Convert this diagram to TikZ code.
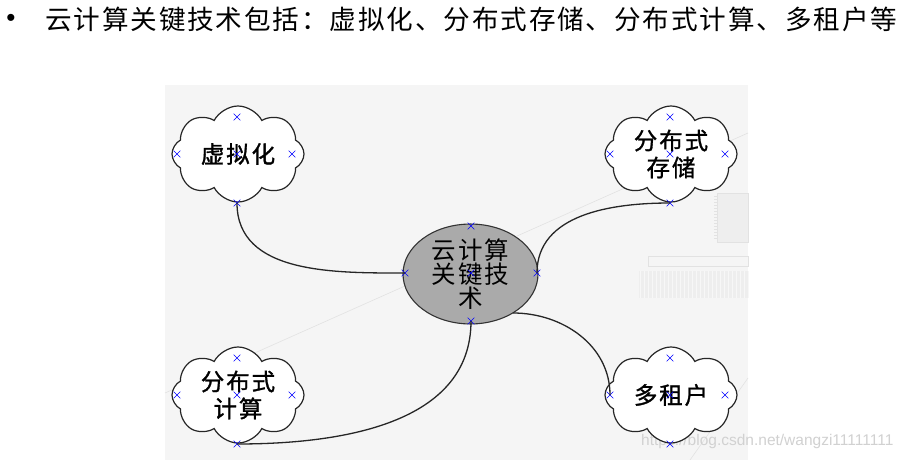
\documentclass[tikz,border=0pt]{standalone}
\usepackage{fontspec}
\usetikzlibrary{shapes.symbols,shapes.misc,shapes.geometric}
\setmainfont{Liberation Sans}
\newfontfamily\cjk{Noto Sans CJK SC}
\newfontfamily\cjkspaced[LetterSpace=8]{Noto Sans CJK SC}
\newfontfamily\cjktitle[LetterSpace=7]{Noto Sans CJK SC}
\newfontfamily\cjkbold[LetterSpace=8,FakeBold=1.2]{Noto Sans CJK SC}
\definecolor{panelbg}{HTML}{F5F5F5}
\definecolor{faint}{HTML}{E2E2E2}
\definecolor{faintfill}{HTML}{EEEEEE}
\definecolor{ellfill}{HTML}{AAAAAA}
\begin{document}
\begin{tikzpicture}[x=1pt,y=-1pt,
  cloudnode/.style={cloud, cloud puffs=8, cloud puff arc=125, cloud ignores aspect,
    draw=black!85, line width=1.2pt, fill=white, minimum width=132pt, minimum height=96pt,
    inner sep=0pt, align=center, font=\cjkbold\fontsize{23.5}{27}\selectfont},
  corenode/.style={ellipse, draw=black!80, line width=1.1pt, fill=ellfill,
    minimum width=135pt, minimum height=98pt, inner sep=0pt, align=center,
    font=\cjkspaced\fontsize{24.5}{24}\selectfont},
  marker/.style={cross out, draw=blue, line width=0.6pt, minimum size=6pt, inner sep=0pt},
  link/.style={draw=black!85, line width=1.3pt},
  faintline/.style={draw=faint, line width=0.6pt},
]
\useasboundingbox (0,0) rectangle (916,460);
\fill[white] (0,0) rectangle (916,460);
% title
\node[anchor=center, font=\fontsize{26}{26}\selectfont] (bullet) at (11,20) {•};
\node[anchor=west, inner sep=0pt, font=\cjktitle\fontsize{26.6}{28}\selectfont] (title) at (45,19)
  {云计算关键技术包括：虚拟化、分布式存储、分布式计算、多租户等};
% panel
\fill[panelbg] (165,85) rectangle (748,460);
\draw[faintline] (165,393) -- (748,133);
\draw[faintline] (690,460) -- (748,378);
% faint background components
\draw[faint, fill=faintfill, line width=0.8pt] (717,193) rectangle (748,242);
\foreach \yy in {196,199,...,240} { \draw[faint, line width=0.4pt] (714,\yy) -- (717,\yy); }
\draw[faint, fill=panelbg, line width=1pt] (648,256) rectangle (748,266);
\fill[faintfill] (639,271) rectangle (748,298);
\foreach \xx in {640,644,...,748} { \draw[faint!120!gray!90, line width=0.8pt] (\xx,271) -- (\xx,298); }
% watermark
\node[anchor=west, inner sep=0pt, text=black!18, font=\fontsize{15.5}{16}\selectfont] (wm) at (641,441)
  {https://blog.csdn.net/wangzi11111111};
% nodes
\node[corenode] (core) at (470.5,274) {云计算\\关键技\\术};
\node[cloudnode] (virt) at (238,154) {虚拟化};
\node[cloudnode] (store) at (671,154) {分布式\\存储};
\node[cloudnode] (comp) at (238,395) {分布式\\计算};
\node[cloudnode] (tenant) at (671,395) {多租户};
% markers
\foreach \nm/\cx/\cy in {v/237/154, s/670/154, c/237/395, t/670/395} {
  \node[marker] (\nm top) at (\cx,\cy-37) {};
  \node[marker] (\nm left) at (\cx-60,\cy) {};
  \node[marker] (\nm right) at (\cx+55,\cy) {};
  \node[marker] (\nm bot) at (\cx,\cy+49) {};
  \node[marker] (\nm mid) at (\cx,\cy) {};
}
\node[marker] (ktop) at (471,226) {};
\node[marker] (kleft) at (405,273) {};
\node[marker] (kright) at (537,273) {};
\node[marker] (kbot) at (471,321) {};
\node[marker] (kmid) at (471,273) {};
\coordinate (kexit) at (513,313);
% connectors
\draw[link] (vbot.center) to[out=-90, in=180] (kleft.center);
\draw[link] (kright.center) to[out=90, in=180] (sbot.center);
\draw[link] (cbot.center) to[out=0, in=-90] (kbot.center);
\draw[link] (kexit) to[out=0, in=90] (tleft.center);
\end{tikzpicture}
\end{document}
